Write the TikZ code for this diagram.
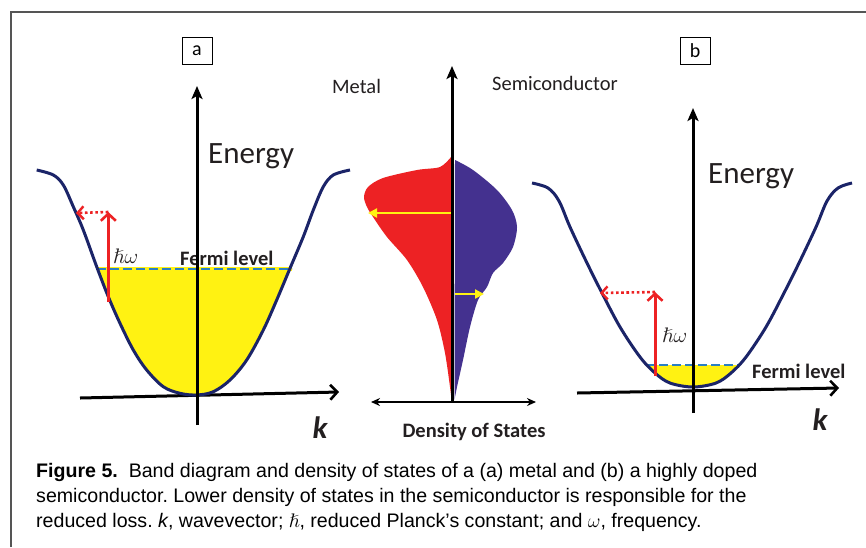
\documentclass[tikz,border=0pt]{standalone}
\usepackage{fix-cm}
\usepackage{amssymb}
\usepackage{fontspec}
\setmainfont{Carlito}
\newfontfamily\capfont{Liberation Sans}
\usetikzlibrary{arrows.meta}
\definecolor{navyc}{RGB}{27,36,104}
\definecolor{yel}{RGB}{255,242,18}
\definecolor{redc}{RGB}{237,34,36}
\definecolor{purc}{RGB}{68,49,143}
\definecolor{dashc}{RGB}{43,127,195}
\definecolor{framec}{RGB}{85,85,85}
\definecolor{txt}{RGB}{35,31,32}
\frenchspacing
\begin{document}
\begin{tikzpicture}[x=1pt,y=-1pt,
  axisline/.style={line width=3pt, black},
  hartip/.style={-{Straight Barb[length=7pt,width=15pt,line width=2.6pt]}},
  vartip/.style={-{Stealth[length=13pt,width=11pt,inset=3pt]}},
  band/.style={line width=3pt, navyc},
  fermi/.style={line width=2.6pt, dashc, dash pattern=on 9pt off 4pt},
  fermiunder/.style={line width=3.6pt, yel},
  excite/.style={line width=3pt, redc, -{Straight Barb[length=7pt,width=15pt,line width=2.6pt]}},
  scatter/.style={line width=2.6pt, redc, dash pattern=on 2.6pt off 2.6pt, -{Straight Barb[length=6pt,width=13pt,line width=2.4pt]}},
  yarrow/.style={line width=2.6pt, yel, -{Triangle[length=9pt,width=9pt]}},
  lbl/.style={inner sep=0pt, text=txt},
  bigl/.style={lbl, font=\fontsize{31}{36}\selectfont},
  midl/.style={lbl, font=\fontsize{20.5}{24}\selectfont},
  boldl/.style={lbl, font=\fontsize{20.5}{24}\selectfont\bfseries},
  kl/.style={lbl, font=\fontsize{31}{36}\selectfont\bfseries\itshape},
  hwl/.style={lbl, font=\fontsize{21}{24}\selectfont},
  capl/.style={inner sep=0pt, text=black, font=\capfont\fontsize{19.6}{24}\selectfont},
  panelbox/.style={draw=black, line width=0.8pt, minimum width=30pt, minimum height=27pt, inner sep=0pt, font=\fontsize{20}{24}\selectfont}
]
\useasboundingbox (0,0) rectangle (866,547);
\fill[white] (0,0) rectangle (866,547);
% frame
\draw[framec, line width=2pt] (11,547) -- (11,12) -- (866,12);

\def\curveA{plot[smooth,tension=0.55] coordinates {(36.7,170) (53.3,175) (63.3,185) (73.3,206.7) (83.3,230) (96.7,266.7) (108.3,296.7) (120,323.3) (133.3,350) (146.7,370) (163.3,386.7) (180,393.3) (196.7,395) (213.3,391.7) (230,380) (246.7,360) (263.3,330) (276.7,300) (290,268.3) (303.3,236.7) (313.3,210) (323.3,186.7) (333.3,175) (350,170)}}
\def\curveB{plot[smooth,tension=0.55] coordinates {(532,183) (548,188) (559,201) (570,227) (587,263) (602,293) (620,327) (640,357) (655,373) (670,383) (693,387) (716,383) (731,373) (746,357) (766,327) (784,293) (799,263) (816,227) (827,201) (838,188) (852,183)}}

% ---------- panel a ----------
\begin{scope}
  \clip (0,269) rectangle (430,500);
  \fill[yel] \curveA -- cycle;
\end{scope}
\coordinate (fa1) at (96.7,269);
\coordinate (fa2) at (291.7,269);
\draw[fermiunder] (fa1) -- (fa2);
\draw[fermi] (fa1) -- (fa2);
\node[boldl, anchor=base west] (fermiA) at (180,265) {Fermi level};
\coordinate (vaB) at (197,425);
\coordinate (vaT) at (197,86);
\coordinate (haL) at (80,398);
\coordinate (haR) at (339,392);
\draw[axisline, hartip] (haL) -- (haR);
\draw[band] \curveA;
\draw[axisline, vartip] (vaB) -- (vaT);
\coordinate (exA0) at (108.3,302);
\coordinate (exA1) at (108.3,212);
\coordinate (scA) at (76,213);
\draw[scatter] (exA1) -- (scA);
\draw[excite] (exA0) -- (exA1);
\node[hwl, anchor=base west] (hwA) at (113,263) {$\hslash\omega$};
\node[bigl, anchor=base west] (enA) at (208,163) {Energy};
\node[kl, anchor=base] (kA) at (320,438) {k};
\node[panelbox] (boxa) at (197,50.5) {a};

% ---------- DOS ----------
\fill[redc] plot[smooth,tension=0.5] coordinates {(451,157) (440,167) (417,170) (383,178) (368,187) (364,197) (367,207) (373,217) (387,237) (407,260) (423,287) (437,320) (445,353) (450,387) (451.5,400)} -- cycle;
\fill[purc] plot[smooth,tension=0.5] coordinates {(455,160) (473,170) (497,190) (512,210) (517,227) (513,247) (503,263) (493,273) (487,287) (478,300) (470,327) (463,360) (457,387) (454.5,400)} -- cycle;
\coordinate (dyL0) at (451,213);
\coordinate (dyL1) at (368,213);
\coordinate (dyR0) at (455,294);
\coordinate (dyR1) at (484,294);
\draw[yarrow] (dyL0) -- (dyL1);
\draw[yarrow] (dyR0) -- (dyR1);
\coordinate (dvB) at (452,402);
\coordinate (dvT) at (452,66);
\coordinate (dhL) at (371,402);
\coordinate (dhR) at (536,402);
\draw[line width=2pt, {Stealth[length=9pt,width=8pt]}-{Stealth[length=9pt,width=8pt]}] (dhL) -- (dhR);
\draw[axisline, vartip] (dvB) -- (dvT);
\node[midl, anchor=base west] (metal) at (332,93) {Metal};
\node[midl, anchor=base west] (semi) at (492,90) {Semiconductor};
\node[boldl, anchor=base] (dos) at (474,437) {Density of States};

% ---------- panel b ----------
\begin{scope}
  \clip (560,365) rectangle (866,500);
  \fill[yel] \curveB -- cycle;
\end{scope}
\coordinate (fb1) at (646,365);
\coordinate (fb2) at (740,365);
\draw[fermi] (fb1) -- (fb2);
\node[boldl, anchor=base west] (fermiB) at (752,378) {Fermi level};
\coordinate (vbB) at (693,413);
\coordinate (vbT) at (693,108);
\coordinate (hbL) at (577,393);
\coordinate (hbR) at (839,388);
\draw[axisline, hartip] (hbL) -- (hbR);
\draw[band] \curveB;
\draw[axisline, vartip] (vbB) -- (vbT);
\coordinate (exB0) at (655,376);
\coordinate (exB1) at (655,292);
\coordinate (scB) at (600,293);
\draw[scatter] (exB1) -- (scB);
\draw[excite] (exB0) -- (exB1);
\node[hwl, anchor=base west] (hwB) at (662,342) {$\hslash\omega$};
\node[bigl, anchor=base west] (enB) at (708,183) {Energy};
\node[kl, anchor=base] (kB) at (820,430) {k};
\node[panelbox] (boxb) at (695,50.5) {b};

% ---------- caption ----------
\node[capl, anchor=base west] (cap1) at (36,477) {\textbf{Figure 5.}\ \ Band diagram and density of states of a (a) metal and (b) a highly doped};
\node[capl, anchor=base west] (cap2) at (36,502) {semiconductor. Lower density of states in the semiconductor is responsible for the};
\node[capl, anchor=base west] (cap3) at (36,527) {reduced loss. \textit{k}, wavevector; $\hslash$, reduced Planck’s constant; and $\omega$, frequency.};
\end{tikzpicture}
\end{document}
